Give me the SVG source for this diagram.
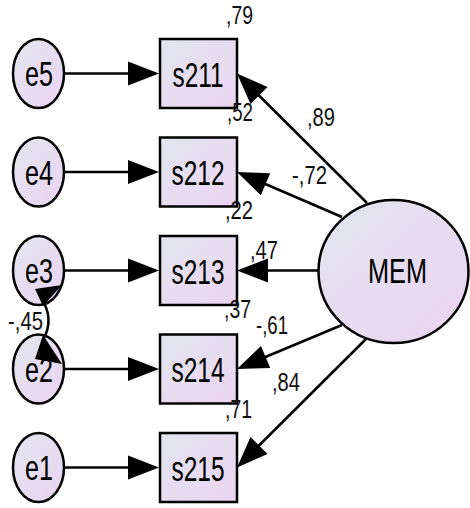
<svg xmlns="http://www.w3.org/2000/svg" width="470" height="508" viewBox="0 0 470 508">
<style>
.n{stroke:#000;stroke-width:2.5;fill:url(#g)}
.c{stroke:#000;stroke-width:2.5;fill:none}
.h{fill:#000;stroke:none}
.t{font-family:"Liberation Sans",Arial,sans-serif;font-size:35px;fill:#000;text-anchor:middle}
.l{font-family:"Liberation Sans",Arial,sans-serif;font-size:26.5px;fill:#111}
</style>
<defs>
<linearGradient id="g" x1="0" y1="0" x2="1" y2="1">
<stop offset="0" stop-color="#e1e6ee"/>
<stop offset="1" stop-color="#ecd3f3"/>
</linearGradient>
</defs>
<rect width="470" height="508" fill="#fff"/>
<g id="e5"><ellipse class="n" cx="38.5" cy="73.5" rx="25.5" ry="34.5"/><text class="t" x="39" y="86" textLength="28" lengthAdjust="spacingAndGlyphs">e5</text></g>
<g id="e4"><ellipse class="n" cx="38.5" cy="172" rx="25.5" ry="34.5"/><text class="t" x="39" y="184.5" textLength="28" lengthAdjust="spacingAndGlyphs">e4</text></g>
<g id="e3"><ellipse class="n" cx="38.5" cy="270.5" rx="25.5" ry="34.5"/><text class="t" x="39" y="283" textLength="28" lengthAdjust="spacingAndGlyphs">e3</text></g>
<g id="e2"><ellipse class="n" cx="38.5" cy="369" rx="25.5" ry="34.5"/><text class="t" x="39" y="381.5" textLength="28" lengthAdjust="spacingAndGlyphs">e2</text></g>
<g id="e1"><ellipse class="n" cx="38.5" cy="467.5" rx="25.5" ry="34.5"/><text class="t" x="39" y="480" textLength="28" lengthAdjust="spacingAndGlyphs">e1</text></g>
<g id="s211"><rect class="n" x="160" y="39" width="77" height="69"/><text class="t" x="198" y="86.5" textLength="51" lengthAdjust="spacingAndGlyphs">s211</text></g>
<g id="s212"><rect class="n" x="160" y="137.5" width="77" height="69"/><text class="t" x="198" y="185" textLength="53" lengthAdjust="spacingAndGlyphs">s212</text></g>
<g id="s213"><rect class="n" x="160" y="236" width="77" height="69"/><text class="t" x="198" y="283.5" textLength="53" lengthAdjust="spacingAndGlyphs">s213</text></g>
<g id="s214"><rect class="n" x="160" y="334.5" width="77" height="69"/><text class="t" x="198" y="382" textLength="53" lengthAdjust="spacingAndGlyphs">s214</text></g>
<g id="s215"><rect class="n" x="160" y="433" width="77" height="69"/><text class="t" x="198" y="480.5" textLength="53" lengthAdjust="spacingAndGlyphs">s215</text></g>
<g id="MEM"><ellipse class="n" cx="393.5" cy="271.5" rx="75" ry="71.5"/><text class="t" x="397.5" y="283" textLength="59" lengthAdjust="spacingAndGlyphs">MEM</text></g>
<g id="connectors">
<line class="c" x1="64" y1="73.5" x2="130" y2="73.5"/>
<polygon class="h" points="159,73.5 128,61.5 128,85.5"/>
<line class="c" x1="64" y1="172" x2="130" y2="172"/>
<polygon class="h" points="159,172 128,160 128,184"/>
<line class="c" x1="64" y1="270.5" x2="130" y2="270.5"/>
<polygon class="h" points="159,270.5 128,258.5 128,282.5"/>
<line class="c" x1="64" y1="369" x2="130" y2="369"/>
<polygon class="h" points="159,369 128,357 128,381"/>
<line class="c" x1="64" y1="467.5" x2="130" y2="467.5"/>
<polygon class="h" points="159,467.5 128,455.5 128,479.5"/>
<line class="c" x1="367" y1="203" x2="257" y2="93.5"/>
<polygon class="h" points="237,73.5 250.5,103.9 267.5,86.9"/>
<line class="c" x1="342" y1="217" x2="263" y2="183"/>
<polygon class="h" points="237,172 260.8,195.2 270.2,173.2"/>
<line class="c" x1="318" y1="270.5" x2="266" y2="270.5"/>
<polygon class="h" points="237,270.5 268,258.5 268,282.5"/>
<line class="c" x1="342" y1="325" x2="263" y2="358"/>
<polygon class="h" points="237,369 270.2,368.1 261,345.9"/>
<line class="c" x1="367" y1="338" x2="257" y2="447.5"/>
<polygon class="h" points="237,467.5 267.5,454.1 250.5,437.1"/>
<path class="c" d="M44,303 Q53,320.5 44,338"/>
<polygon class="h" points="43,306 35,289 62,285"/>
<polygon class="h" points="43,335 35,359 62,364"/>
</g>
<g id="labels">
<text class="l" x="226" y="24" textLength="27" lengthAdjust="spacingAndGlyphs">,79</text>
<text class="l" x="227" y="121" textLength="26" lengthAdjust="spacingAndGlyphs">,52</text>
<text class="l" x="307" y="126" textLength="28" lengthAdjust="spacingAndGlyphs">,89</text>
<text class="l" x="292" y="184" textLength="35" lengthAdjust="spacingAndGlyphs">-,72</text>
<text class="l" x="225" y="219" textLength="28" lengthAdjust="spacingAndGlyphs">,22</text>
<text class="l" x="250" y="259" textLength="28" lengthAdjust="spacingAndGlyphs">,47</text>
<text class="l" x="224" y="318" textLength="27" lengthAdjust="spacingAndGlyphs">,37</text>
<text class="l" x="256" y="334" textLength="32" lengthAdjust="spacingAndGlyphs">-,61</text>
<text class="l" x="272" y="391" textLength="28" lengthAdjust="spacingAndGlyphs">,84</text>
<text class="l" x="225" y="418" textLength="27" lengthAdjust="spacingAndGlyphs">,71</text>
<text class="l" x="8" y="330" textLength="35" lengthAdjust="spacingAndGlyphs">-,45</text>
</g>
</svg>
